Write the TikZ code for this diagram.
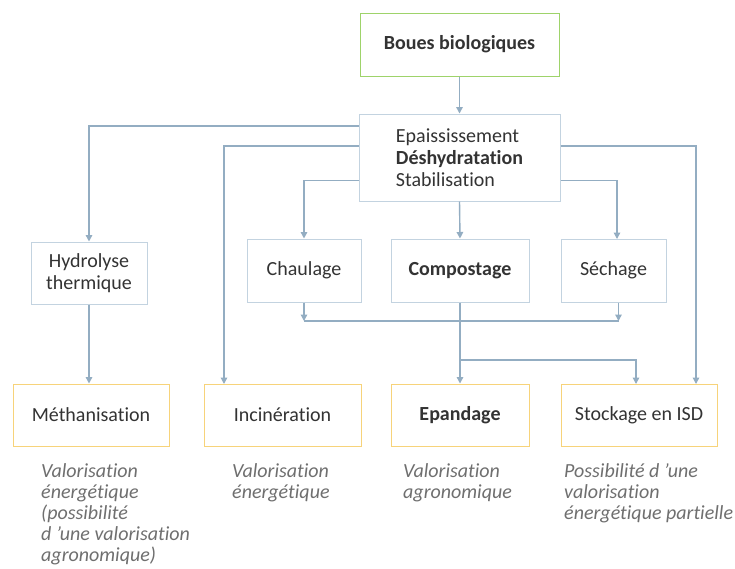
\documentclass[tikz,border=0pt]{standalone}
\usepackage{fontspec}
\setmainfont{Carlito}[Ligatures=NoCommon]
\usetikzlibrary{arrows.meta,positioning}
\definecolor{lineblue}{HTML}{93ADC2}
\definecolor{boxblue}{HTML}{C3D3E0}
\definecolor{boxgreen}{HTML}{9ED36A}
\definecolor{boxyellow}{HTML}{F7D37A}
\definecolor{txt}{HTML}{333333}
\definecolor{note}{HTML}{6F6F6F}
\tikzset{
  base/.style={draw, line width=1pt, inner sep=0pt, align=center, text=txt,
    font=\fontsize{20}{21.8}\selectfont},
  gbox/.style={base, draw=boxgreen},
  bbox/.style={base, draw=boxblue},
  ybox/.style={base, draw=boxyellow},
  conn/.style={draw=lineblue, line width=1.4pt},
  arr/.style={conn, -{Triangle[width=6.5pt,length=6.5pt]}},
  notetext/.style={anchor=north west, inner sep=0pt, align=left, text=note,
    font=\fontsize{20}{21}\selectfont\itshape}
}
\begin{document}
\begin{tikzpicture}[x=1pt,y=-1pt]
\useasboundingbox[fill=white] (0,0) rectangle (735,568);
% boxes
\node[gbox, minimum width=199pt, minimum height=63pt, font=\fontsize{20}{21.8}\selectfont\bfseries] (boues) at (459.5,44.5) {Boues biologiques};
\node[bbox, minimum width=201pt, minimum height=87pt, align=left] (cent) at (459.5,157.5)
  {Epaississement\\\textbf{Déshydratation}\\Stabilisation};
\node[bbox, minimum width=116pt, minimum height=62pt] (hyd) at (89,273) {Hydrolyse\\thermique};
\node[bbox, minimum width=114pt, minimum height=63pt] (chaul) at (304,270.5) {Chaulage};
\node[bbox, minimum width=138pt, minimum height=63pt, font=\fontsize{20}{21.8}\selectfont\bfseries] (comp) at (460,270.5) {Compostage};
\node[bbox, minimum width=105pt, minimum height=63pt] (sech) at (613.5,270.5) {Séchage};
\node[ybox, minimum width=156pt, minimum height=62pt] (meth) at (91,415) {Méthanisation};
\node[ybox, minimum width=157pt, minimum height=62pt] (inc) at (282.5,415) {Incinération};
\node[ybox, minimum width=138pt, minimum height=62pt, font=\fontsize{20}{21.8}\selectfont\bfseries] (epa) at (460,415) {Epandage};
\node[ybox, minimum width=156pt, minimum height=62pt] (stock) at (639,415) {Stockage en ISD};
% notes
\node[notetext] (n1) at (41,463) {Valorisation\\énergétique\\(possibilité\\d 'une valorisation\\agronomique)};
\node[notetext] (n2) at (232,463) {Valorisation\\énergétique};
\node[notetext] (n3) at (403,463) {Valorisation\\agronomique};
\node[notetext] (n4) at (564,463) {Possibilité d 'une\\valorisation\\énergétique partielle};
% level coordinates
\coordinate (y1) at (0,126);
\coordinate (y2) at (0,146);
\coordinate (y3) at (0,180.5);
\coordinate (incin) at (224,384);
\coordinate (stockin) at (696,384);
\coordinate (sechin) at (617,239);
\coordinate (merge) at (0,321);
\coordinate (branch) at (460,360);
\coordinate (stockin2) at (636,384);
% connectors
\draw[arr] (boues.south) -- (cent.north);
\draw[arr] (cent.west |- y1) -| (hyd.north);
\draw[arr] (cent.west |- y2) -| (incin);
\draw[arr] (cent.west |- y3) -| (chaul.north);
\draw[arr] (cent.south) -- (comp.north);
\draw[arr] (cent.east |- y3) -| (sechin);
\draw[arr] (cent.east |- y2) -| (stockin);
\draw[arr] (hyd.south) -- (hyd.south |- meth.north);
\draw[arr] (chaul.south) -- (chaul.south |- merge);
\draw[arr] ([xshift=5pt]sech.south) -- ([xshift=5pt]sech.south |- merge);
\draw[conn] (chaul.south |- merge) -- ([xshift=5pt]sech.south |- merge);
\draw[arr] (comp.south) -- (epa.north);
\draw[arr] (branch) -| (stockin2);
\end{tikzpicture}
\end{document}
